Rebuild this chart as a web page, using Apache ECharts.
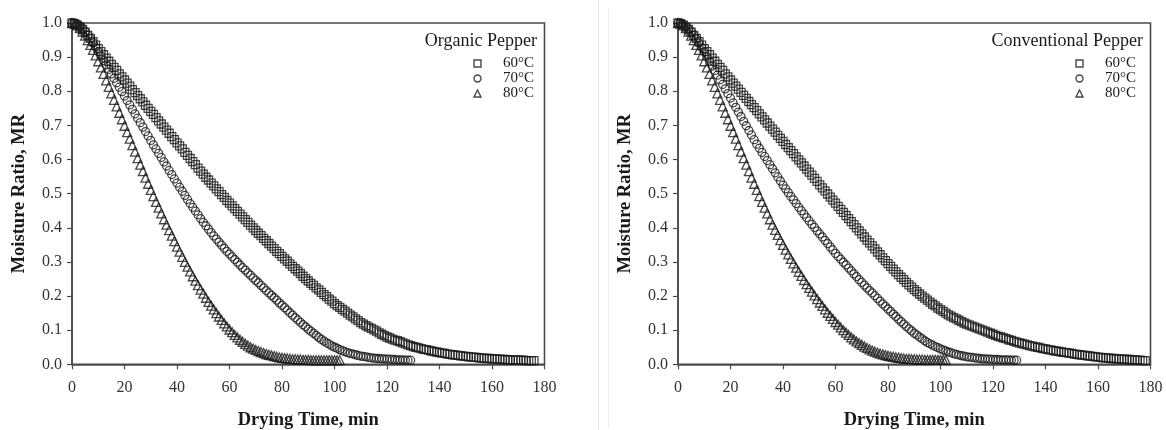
<!DOCTYPE html>
<html>
<head>
<meta charset="utf-8">
<script src="https://cdn.jsdelivr.net/npm/echarts@6/dist/echarts.min.js"></script>
<style>
  html, body { margin: 0; padding: 0; background: #fff; }
  #chart { width: 1166px; height: 430px; }
</style>
</head>
<body>
<div id="chart"></div>
<script>
// drying time, min (one reading per minute)
const dryingTime = [
  0,1,2,3,4,5,6,7,8,9,10,11,12,13,14,15,16,17,18,19,20,21,22,23,24,25,26,27,28,29,
  30,31,32,33,34,35,36,37,38,39,40,41,42,43,44,45,46,47,48,49,50,51,52,53,54,55,56,57,58,59,
  60,61,62,63,64,65,66,67,68,69,70,71,72,73,74,75,76,77,78,79,80,81,82,83,84,85,86,87,88,89,
  90,91,92,93,94,95,96,97,98,99,100,101,102,103,104,105,106,107,108,109,110,111,112,113,114,
  115,116,117,118,119,120,121,122,123,124,125,126,127,128,129,130,131,132,133,134,135,136,
  137,138,139,140,141,142,143,144,145,146,147,148,149,150,151,152,153,154,155,156,157,158,
  159,160,161,162,163,164,165,166,167,168,169,170,171,172,173,174,175,176,177,178
];

const tempNames = ["60°C", "70°C", "80°C"];
const panelTitles = ["Organic Pepper", "Conventional Pepper"];

// moisture ratio, organic pepper
const organic60 = [
  1.000,0.998,0.994,0.988,0.981,0.973,0.964,0.955,0.945,0.935,
  0.925,0.916,0.907,0.897,0.888,0.879,0.870,0.861,0.851,0.842,
  0.833,0.824,0.815,0.805,0.796,0.787,0.778,0.769,0.759,0.750,
  0.741,0.732,0.723,0.713,0.704,0.695,0.686,0.677,0.667,0.658,
  0.649,0.640,0.631,0.621,0.612,0.603,0.594,0.585,0.575,0.566,
  0.557,0.548,0.540,0.531,0.523,0.514,0.506,0.497,0.489,0.480,
  0.472,0.464,0.456,0.448,0.440,0.432,0.424,0.416,0.408,0.400,
  0.392,0.384,0.377,0.369,0.362,0.354,0.346,0.339,0.331,0.324,
  0.316,0.309,0.302,0.294,0.287,0.280,0.273,0.266,0.258,0.251,
  0.244,0.237,0.231,0.224,0.218,0.211,0.204,0.198,0.191,0.185,
  0.178,0.172,0.167,0.161,0.156,0.150,0.144,0.139,0.133,0.128,
  0.122,0.118,0.113,0.109,0.105,0.101,0.097,0.092,0.088,0.084,
  0.080,0.077,0.074,0.071,0.069,0.066,0.063,0.060,0.057,0.055,
  0.052,0.050,0.048,0.046,0.044,0.043,0.041,0.039,0.037,0.036,
  0.034,0.033,0.032,0.030,0.029,0.028,0.027,0.026,0.025,0.024,
  0.023,0.022,0.021,0.021,0.020,0.019,0.018,0.018,0.017,0.017,
  0.016,0.016,0.015,0.015,0.014,0.014,0.013,0.013,0.013,0.012,
  0.012,0.012,0.012,0.011,0.011,0.011,0.011
];
const organic70 = [
  1.000,0.999,0.996,0.991,0.984,0.975,0.965,0.954,0.942,0.929,
  0.916,0.903,0.890,0.877,0.864,0.851,0.838,0.825,0.812,0.799,
  0.786,0.773,0.760,0.747,0.734,0.721,0.708,0.695,0.682,0.669,
  0.656,0.643,0.631,0.618,0.606,0.593,0.581,0.568,0.556,0.543,
  0.531,0.519,0.507,0.495,0.483,0.471,0.460,0.449,0.438,0.427,
  0.416,0.406,0.396,0.386,0.376,0.367,0.358,0.349,0.340,0.331,
  0.323,0.315,0.307,0.299,0.291,0.283,0.276,0.268,0.261,0.253,
  0.246,0.239,0.231,0.224,0.216,0.209,0.202,0.195,0.188,0.180,
  0.173,0.166,0.159,0.151,0.144,0.137,0.130,0.123,0.116,0.110,
  0.103,0.097,0.091,0.085,0.079,0.073,0.068,0.063,0.059,0.054,
  0.050,0.047,0.043,0.040,0.037,0.034,0.032,0.030,0.028,0.026,
  0.024,0.023,0.022,0.020,0.019,0.018,0.017,0.017,0.016,0.016,
  0.015,0.015,0.014,0.014,0.013,0.013,0.013,0.012,0.012,0.012
];
const organic80 = [
  1.000,0.998,0.993,0.985,0.975,0.963,0.950,0.936,0.921,0.905,
  0.888,0.870,0.851,0.832,0.813,0.794,0.775,0.756,0.737,0.718,
  0.699,0.680,0.661,0.642,0.623,0.604,0.585,0.566,0.547,0.529,
  0.511,0.493,0.476,0.459,0.442,0.425,0.409,0.393,0.377,0.361,
  0.345,0.330,0.315,0.300,0.286,0.272,0.258,0.245,0.232,0.219,
  0.207,0.195,0.183,0.172,0.161,0.150,0.140,0.130,0.120,0.111,
  0.102,0.094,0.086,0.079,0.072,0.066,0.060,0.055,0.050,0.046,
  0.042,0.039,0.036,0.033,0.030,0.028,0.026,0.024,0.022,0.020,
  0.019,0.018,0.017,0.016,0.015,0.015,0.014,0.014,0.013,0.013,
  0.013,0.012,0.012,0.012,0.012,0.012,0.012,0.012,0.012,0.012,
  0.012,0.012,0.012
];

// moisture ratio, conventional pepper
const conv60 = [
  1.000,0.998,0.994,0.988,0.981,0.973,0.964,0.955,0.945,0.935,
  0.925,0.916,0.907,0.897,0.888,0.879,0.870,0.861,0.851,0.842,
  0.833,0.824,0.815,0.806,0.797,0.788,0.779,0.770,0.761,0.752,
  0.743,0.734,0.725,0.716,0.707,0.698,0.689,0.680,0.671,0.662,
  0.653,0.644,0.635,0.626,0.617,0.608,0.599,0.590,0.581,0.572,
  0.563,0.554,0.545,0.536,0.526,0.517,0.508,0.499,0.490,0.481,
  0.472,0.463,0.454,0.445,0.436,0.427,0.418,0.409,0.400,0.391,
  0.382,0.373,0.364,0.356,0.347,0.338,0.329,0.321,0.312,0.304,
  0.295,0.287,0.279,0.271,0.263,0.255,0.248,0.240,0.233,0.226,
  0.219,0.213,0.206,0.200,0.194,0.188,0.182,0.176,0.171,0.165,
  0.160,0.155,0.150,0.145,0.141,0.137,0.133,0.129,0.125,0.121,
  0.118,0.115,0.112,0.109,0.106,0.103,0.100,0.097,0.094,0.091,
  0.088,0.085,0.082,0.080,0.077,0.075,0.072,0.070,0.067,0.065,
  0.063,0.061,0.059,0.057,0.055,0.053,0.051,0.050,0.048,0.046,
  0.045,0.043,0.042,0.040,0.039,0.038,0.036,0.035,0.034,0.033,
  0.032,0.030,0.029,0.028,0.027,0.026,0.025,0.024,0.023,0.022,
  0.021,0.020,0.019,0.019,0.018,0.017,0.017,0.016,0.016,0.015,
  0.015,0.014,0.014,0.013,0.013,0.012,0.012,0.011,0.011
];
const conv70 = [
  1.000,0.999,0.996,0.990,0.983,0.974,0.964,0.953,0.941,0.928,
  0.915,0.901,0.888,0.874,0.861,0.847,0.834,0.820,0.807,0.793,
  0.780,0.766,0.753,0.739,0.726,0.712,0.699,0.685,0.672,0.658,
  0.645,0.633,0.621,0.609,0.597,0.585,0.573,0.561,0.549,0.537,
  0.525,0.514,0.503,0.492,0.482,0.471,0.460,0.450,0.440,0.430,
  0.420,0.410,0.401,0.391,0.382,0.373,0.363,0.354,0.344,0.335,
  0.325,0.316,0.308,0.299,0.291,0.282,0.274,0.265,0.257,0.248,
  0.240,0.232,0.224,0.216,0.209,0.201,0.193,0.185,0.177,0.170,
  0.162,0.155,0.147,0.140,0.132,0.125,0.118,0.111,0.104,0.098,
  0.091,0.086,0.080,0.075,0.069,0.064,0.060,0.056,0.052,0.049,
  0.045,0.042,0.039,0.036,0.034,0.031,0.029,0.027,0.025,0.024,
  0.022,0.021,0.020,0.019,0.018,0.017,0.016,0.016,0.015,0.015,
  0.014,0.014,0.014,0.013,0.013,0.013,0.013,0.012,0.012,0.012
];
const conv80 = [
  1.000,0.998,0.993,0.985,0.975,0.963,0.950,0.936,0.921,0.905,
  0.888,0.870,0.851,0.832,0.813,0.794,0.775,0.756,0.737,0.718,
  0.699,0.680,0.661,0.642,0.623,0.604,0.585,0.566,0.547,0.529,
  0.511,0.493,0.476,0.459,0.442,0.425,0.409,0.394,0.379,0.364,
  0.350,0.336,0.322,0.309,0.296,0.283,0.271,0.259,0.247,0.235,
  0.224,0.213,0.202,0.191,0.181,0.171,0.161,0.151,0.142,0.133,
  0.124,0.116,0.108,0.100,0.093,0.086,0.079,0.073,0.067,0.062,
  0.057,0.052,0.048,0.044,0.040,0.037,0.034,0.031,0.029,0.027,
  0.025,0.023,0.022,0.020,0.019,0.018,0.017,0.016,0.016,0.015,
  0.015,0.014,0.014,0.014,0.013,0.013,0.013,0.013,0.013,0.013,
  0.013,0.013,0.013
];

const FONT = "'Liberation Serif', 'Times New Roman', serif";
const INK = "#1a1a1a";
const AXIS = "#4a4a4a";

// pair each reading with its time
function pairs(values) {
  return values.map((v, i) => [dryingTime[i], v]);
}

const panels = [
  { title: panelTitles[0], sets: [organic60, organic70, organic80], left: 72, titleRight: 629, legendLeft: 471.5 },
  { title: panelTitles[1], sets: [conv60, conv70, conv80], left: 678, titleRight: 23, legendLeft: 1073.5 },
];
const symbols = ["rect", "circle", "triangle"];
const symbolSizes = [8, 8, 9];

let grids = [], xAxes = [], yAxes = [], series = [], titles = [], legends = [];

panels.forEach((p, k) => {
  grids.push({
    left: p.left, top: 23, width: 472.5, height: 341.3,
    outerBoundsMode: "none", containLabel: false,
    show: true, borderColor: AXIS, borderWidth: 1.6, backgroundColor: "transparent",
  });
  xAxes.push({
    gridIndex: k, type: "value", min: 0, max: 180, interval: 20,
    name: "Drying Time, min", nameLocation: "middle", nameGap: 46,
    nameTextStyle: { fontFamily: FONT, fontSize: 18.5, fontWeight: "bold", color: INK },
    axisLine: { show: true, onZero: false, lineStyle: { color: AXIS, width: 1.6 } },
    axisTick: { show: true, length: 5, lineStyle: { color: AXIS, width: 1.2 } },
    axisLabel: { fontFamily: FONT, fontSize: 16, color: "#333", margin: 15 },
    splitLine: { show: false },
  });
  yAxes.push({
    gridIndex: k, type: "value", min: 0, max: 1, interval: 0.1,
    name: "Moisture Ratio, MR", nameLocation: "middle", nameGap: 43, nameRotate: 90,
    nameTextStyle: { fontFamily: FONT, fontSize: 18.5, fontWeight: "bold", color: INK },
    axisLine: { show: true, onZero: false, lineStyle: { color: AXIS, width: 1.6 } },
    axisTick: { show: true, length: 5, lineStyle: { color: AXIS, width: 1.2 } },
    axisLabel: {
      fontFamily: FONT, fontSize: 16, color: "#333", margin: 10,
      formatter: (v) => v.toFixed(1),
    },
    splitLine: { show: false },
  });
  p.sets.forEach((vals, j) => {
    series.push({
      name: tempNames[j], type: "scatter", xAxisIndex: k, yAxisIndex: k,
      symbol: symbols[j], symbolSize: symbolSizes[j], silent: true,
      itemStyle: { color: "none", borderColor: INK, borderWidth: 1.3 },
      data: pairs(vals),
    });
  });
  titles.push({
    text: p.title, right: p.titleRight, top: 32, padding: 0,
    textStyle: { fontFamily: FONT, fontSize: 18, fontWeight: "normal", color: INK },
  });
  legends.push({
    data: tempNames, orient: "vertical", left: p.legendLeft, top: 56, padding: 0,
    itemWidth: 7, itemHeight: 7, itemGap: 0, align: "left", selectedMode: false,
    itemStyle: { color: "none", borderColor: INK, borderWidth: 1.4 },
    textStyle: { fontFamily: FONT, fontSize: 15, color: INK, lineHeight: 15, padding: [0, 0, 0, 17] },
  });
});

const chart = echarts.init(document.getElementById("chart"), null, { renderer: "canvas" });
chart.setOption({
  animation: false,
  backgroundColor: "#fff",
  title: titles,
  legend: legends,
  grid: grids,
  xAxis: xAxes,
  yAxis: yAxes,
  series: series,
  graphic: [
    { type: "line", shape: { x1: 598.5, y1: 0, x2: 598.5, y2: 430 }, style: { stroke: "#e4e4e4", lineWidth: 1 }, silent: true },
    { type: "line", shape: { x1: 608.5, y1: 8, x2: 608.5, y2: 428 }, style: { stroke: "#ededed", lineWidth: 1 }, silent: true },
  ],
});
</script>
</body>
</html>
